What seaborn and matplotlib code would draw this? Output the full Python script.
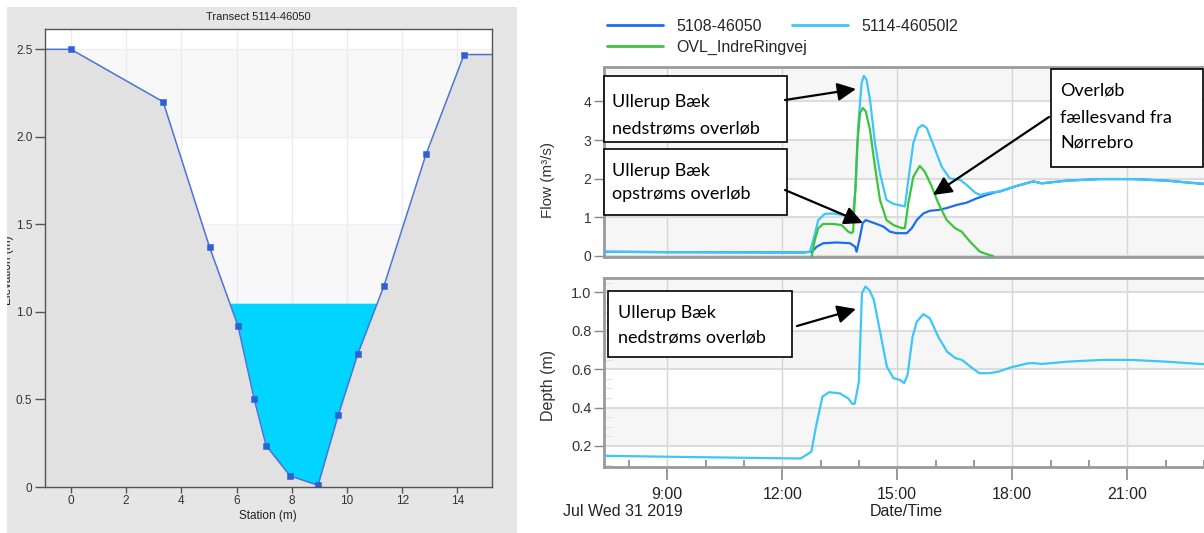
import numpy as np
import pandas as pd
import matplotlib
matplotlib.use("Agg")
import matplotlib.pyplot as plt
import seaborn as sns
from matplotlib.patches import Rectangle, FancyArrowPatch
from matplotlib.lines import Line2D
from matplotlib.ticker import FixedLocator, FuncFormatter

# ---------------- data ----------------
# Transect 5114-46050
station = [0.0, 3.34, 5.02, 6.05, 6.64, 7.07, 7.94, 8.95, 9.68, 10.39, 11.34, 12.86, 14.24]
elevation = [2.50, 2.20, 1.37, 0.92, 0.50, 0.236, 0.063, 0.01, 0.41, 0.76, 1.15, 1.90, 2.47]
water_level = 1.05

# Flow (m3/s) vs time (hours of Jul 31 2019)
t_5108 = [7.35, 9.0, 11.0, 12.5, 12.77, 12.9, 13.07, 13.42, 13.77, 13.9, 13.94, 14.01, 14.1,
          14.18, 14.29, 14.46, 14.64, 14.81, 14.98, 15.25, 15.38, 15.51, 15.68, 15.85, 16.07,
          16.29, 16.55, 16.81, 17.07, 17.33, 17.6, 17.68, 18.11, 18.55, 18.77, 19.42, 20.29,
          21.16, 22.03, 23.06]
q_5108 = [0.11, 0.10, 0.095, 0.09, 0.11, 0.24, 0.33, 0.35, 0.33, 0.24, 0.11, 0.41, 0.85,
          0.93, 0.89, 0.83, 0.76, 0.63, 0.59, 0.59, 0.72, 0.93, 1.10, 1.17, 1.19,
          1.24, 1.32, 1.38, 1.49, 1.58, 1.66, 1.67, 1.81, 1.93, 1.88, 1.95, 1.99,
          1.99, 1.95, 1.86]

t_l2 = [7.35, 9.0, 11.0, 12.5, 12.72, 12.81, 12.94, 13.11, 13.33, 13.59, 13.72, 13.83, 13.92,
        13.98, 14.07, 14.13, 14.2, 14.29, 14.42, 14.55, 14.72, 14.9, 15.12, 15.2, 15.29, 15.42,
        15.55, 15.66, 15.77, 15.94, 16.16, 16.37, 16.64, 16.81, 17.03, 17.16, 17.42, 17.68,
        18.11, 18.55, 18.77, 19.42, 20.29, 21.16, 22.03, 23.06]
q_l2 = [0.11, 0.10, 0.095, 0.09, 0.11, 0.41, 0.93, 1.09, 1.10, 1.06, 0.98, 0.93, 1.8,
        3.35, 4.47, 4.66, 4.56, 4.04, 2.92, 2.14, 1.45, 1.35, 1.30, 1.28, 1.97, 2.92,
        3.31, 3.39, 3.31, 2.88, 2.31, 2.01, 1.97, 1.84, 1.64, 1.58, 1.64, 1.67,
        1.81, 1.93, 1.88, 1.95, 1.99, 1.99, 1.95, 1.86]

t_ovl = [12.77, 12.85, 12.94, 13.07, 13.33, 13.55, 13.72, 13.81, 13.85, 13.9, 13.96, 14.03, 14.1,
         14.18, 14.29, 14.42, 14.55, 14.72, 14.9, 15.12, 15.2, 15.29, 15.42, 15.59, 15.72, 15.9,
         16.07, 16.29, 16.51, 16.68, 16.9, 17.16, 17.42, 17.5]
q_ovl = [0.0, 0.41, 0.72, 0.83, 0.83, 0.80, 0.63, 0.59, 0.63, 1.62, 2.92, 3.70, 3.83,
         3.74, 3.26, 2.31, 1.45, 0.93, 0.80, 0.72, 0.72, 1.37, 2.05, 2.33, 2.18, 1.80,
         1.37, 0.93, 0.72, 0.63, 0.37, 0.11, 0.02, 0.0]

# Depth (m) of 5114-46050l2
t_depth = [7.35, 9.0, 12.0, 12.48, 12.76, 12.88, 13.05, 13.22, 13.5, 13.72, 13.83, 13.89, 14.0,
           14.08, 14.17, 14.28, 14.39, 14.56, 14.73, 14.9, 15.07, 15.18, 15.27, 15.4, 15.51,
           15.68, 15.85, 16.07, 16.3, 16.52, 16.69, 16.91, 17.14, 17.42, 17.64, 17.98, 18.43,
           18.59, 18.77, 19.44, 20.34, 21.12, 22.02, 23.06]
d_depth = [0.149, 0.144, 0.136, 0.135, 0.17, 0.30, 0.457, 0.48, 0.474, 0.448, 0.419, 0.42, 0.535,
           0.995, 1.03, 1.01, 0.96, 0.787, 0.613, 0.553, 0.544, 0.527, 0.57, 0.769, 0.847,
           0.886, 0.865, 0.769, 0.691, 0.657, 0.648, 0.613, 0.579, 0.579, 0.587, 0.61, 0.631,
           0.631, 0.627, 0.639, 0.648, 0.648, 0.639, 0.625]

series_names = ["5108-46050", "5114-46050l2", "OVL_IndreRingvej"]
series_colors = ["#1a6ef0", "#3cc6fa", "#3dc43d"]
time_ticks = [9, 12, 15, 18, 21]
date_label = "Jul Wed 31 2019"

# ---------------- layout helpers ----------------
sns.set_style("white")
plt.rcParams["font.family"] = ["Liberation Sans", "DejaVu Sans"]
W, H = 1204, 533
fig = plt.figure(figsize=(W / 100, H / 100), dpi=100)


def fx(px):
    return px / W


def fy(py):
    return 1 - py / H


def rect(x0, y0, x1, y1):
    return [fx(x0), fy(y1), (x1 - x0) / W, (y1 - y0) / H]


# ---------------- left panel: transect ----------------
fig.patches.append(Rectangle((fx(7), 0), fx(517) - fx(7), fy(7), transform=fig.transFigure,
                             facecolor="#e6e6e6", edgecolor="none", zorder=-5))
ax_t = fig.add_axes(rect(45, 29, 492, 487))
xmin_t, xmax_t = -0.94, 15.25
ax_t.set_xlim(xmin_t, xmax_t)
ax_t.set_ylim(0, 2.616)
ax_t.set_facecolor("white")
for lo in [0.0, 1.0, 2.0]:
    ax_t.axhspan(lo, lo + 0.5, color="#f8f8f8", zorder=0, lw=0)
for gx in range(0, 16, 2):
    ax_t.axvline(gx, color="#ececec", lw=1, zorder=0.5)
for gy in np.arange(0, 2.6, 0.5):
    ax_t.axhline(gy, color="#f0f0f0", lw=1, zorder=0.5)

st_line = [xmin_t] + station + [xmax_t]
el_line = [elevation[0]] + elevation + [elevation[-1]]
st_arr = np.array(st_line)
el_arr = np.array(el_line)
ax_t.fill_between(st_arr, el_arr, water_level, where=el_arr < water_level, interpolate=True,
                  color="#00d4ff", lw=0, zorder=1)
ax_t.fill_between(st_arr, el_arr, 0, color="#e1e1e1", lw=0, zorder=1.5)
sns.lineplot(x=st_line, y=el_line, ax=ax_t, color="#4a74d6", lw=1.1, zorder=3, sort=False)
sns.scatterplot(x=station, y=elevation, ax=ax_t, marker="s", s=22, color="#2f5fd0",
                edgecolor="#2f5fd0", zorder=4)
ax_t.set_xticks(range(0, 15, 2))
ax_t.set_yticks([0, 0.5, 1.0, 1.5, 2.0, 2.5])
ax_t.set_yticklabels(["0", "0.5", "1.0", "1.5", "2.0", "2.5"])
ax_t.tick_params(axis="both", direction="out", length=7, width=1, color="#555555",
                 labelsize=8.5, labelcolor="#333333", pad=2, left=True, bottom=True)
ax_t.tick_params(axis="x", length=4, pad=2)
for s in ax_t.spines.values():
    s.set_color("#555555")
    s.set_linewidth(1)
    s.set_zorder(5)
ax_t.set_xlabel("")
ax_t.set_ylabel("")
fig.text(fx(258), fy(17), "Transect 5114-46050", ha="center", va="center", fontsize=8,
         color="#222222")
fig.text(fx(268), fy(516), "Station (m)", ha="center", va="center", fontsize=8.5,
         color="#222222")
fig.text(fx(8.5), fy(270), "Elevation (m)", ha="center", va="center", rotation=90,
         fontsize=8.5, color="#222222")
fig.patches.append(Rectangle((0, 0), fx(6.5), 1, transform=fig.transFigure,
                             facecolor="white", edgecolor="none", zorder=50))

# ---------------- right panels ----------------
px_per_h = 38.33
x_left = 7.35
x_right = x_left + (1206 - 604) / px_per_h


def style_ts(ax):
    ax.set_xlim(x_left, x_right)
    ax.set_facecolor("white")
    for s in ["left", "top", "bottom"]:
        ax.spines[s].set_color("#9a9a9a")
        ax.spines[s].set_linewidth(2)
    ax.spines["right"].set_visible(False)
    for t in time_ticks:
        ax.axvline(t, color="#d6d6d6", lw=1, zorder=0.5)
    ax.xaxis.set_major_locator(FixedLocator(time_ticks))
    ax.xaxis.set_minor_locator(FixedLocator([h for h in range(8, 24) if h not in time_ticks]))
    ax.set_xlabel("")
    ax.set_ylabel("")


# Flow axes
ax_q = fig.add_axes(rect(604, 67, 1206, 256.5))
style_ts(ax_q)
ax_q.set_ylim(-0.013, 4.89)
for lo in [0, 2, 4]:
    ax_q.axhspan(lo, lo + 1, color="#f6f6f6", lw=0, zorder=0)
for gy in range(0, 5):
    ax_q.axhline(gy, color="#dcdcdc", lw=1.5, zorder=0.6)
sns.lineplot(x=t_5108, y=q_5108, ax=ax_q, color=series_colors[0], lw=1.6, zorder=3)
sns.lineplot(x=t_l2, y=q_l2, ax=ax_q, color=series_colors[1], lw=1.6, zorder=3.2)
sns.lineplot(x=t_ovl, y=q_ovl, ax=ax_q, color=series_colors[2], lw=1.6, zorder=3.4)
ax_q.set_yticks([0, 1, 2, 3, 4])
ax_q.set_yticklabels(["0", "1", "2", "3", "4"])
ax_q.tick_params(axis="y", direction="out", length=7, width=1, color="#888888",
                 labelsize=10, labelcolor="#333333", pad=2, left=True)
ax_q.tick_params(axis="x", which="both", bottom=False, labelbottom=False)
ax_q.set_xlabel("")
ax_q.set_ylabel("")

# Depth axes
ax_d = fig.add_axes(rect(604, 278.3, 1206, 467.3))
style_ts(ax_d)
ax_d.set_ylim(0.089, 1.073)
for lo in [0.2, 0.6, 1.0]:
    ax_d.axhspan(lo, lo + 0.2, color="#f6f6f6", lw=0, zorder=0)
for gy in [0.2, 0.4, 0.6, 0.8, 1.0]:
    ax_d.axhline(gy, color="#dcdcdc", lw=1.5, zorder=0.6)
sns.lineplot(x=t_depth, y=d_depth, ax=ax_d, color=series_colors[1], lw=1.6, zorder=3)
ax_d.set_yticks([0.2, 0.4, 0.6, 0.8, 1.0])
ax_d.set_yticklabels(["0.2", "0.4", "0.6", "0.8", "1.0"])
ax_d.yaxis.set_minor_locator(FixedLocator(np.round(np.arange(0.1, 1.08, 0.05), 2)))
ax_d.tick_params(axis="y", which="major", direction="out", length=7, width=1, color="#888888",
                 labelsize=10.5, labelcolor="#333333", pad=2, left=True)
ax_d.tick_params(axis="y", which="minor", direction="in", length=6, width=0.8,
                 color="#e2e2e2", left=True)
ax_d.tick_params(axis="x", which="major", direction="out", length=9, width=1.2,
                 color="#888888", labelsize=11.5, labelcolor="#222222", pad=5, bottom=True)
ax_d.tick_params(axis="x", which="minor", direction="in", length=5, width=1.2,
                 color="#888888", bottom=True)
ax_d.xaxis.set_major_formatter(FuncFormatter(lambda v, p: f"{int(round(v))}:00"))
ax_d.set_xlabel("")
ax_d.set_ylabel("")

fig.text(fx(548), fy(180), "Flow (m³/s)", ha="center", va="center", rotation=90,
         fontsize=11, color="#333333")
fig.text(fx(548), fy(385), "Depth (m)", ha="center", va="center", rotation=90,
         fontsize=11.5, color="#333333")
fig.text(fx(623), fy(511), date_label, ha="center", va="center", fontsize=11.5,
         color="#222222")
fig.text(fx(906), fy(511), "Date/Time", ha="center", va="center", fontsize=11.5,
         color="#222222")

# Legend: first column (5108, OVL) and a second entry placed at x=792
handles = [Line2D([], [], color=c, lw=2) for c in series_colors]
leg_kw = dict(loc="upper left", frameon=False, fontsize=11.5, handlelength=3.5,
              handletextpad=0.85, labelspacing=0.35, borderpad=0, borderaxespad=0)
fig.legend([handles[0], handles[2]], [series_names[0], series_names[2]],
           bbox_to_anchor=(fx(607), fy(19)), **leg_kw)
fig.legend([handles[1]], [series_names[1]], bbox_to_anchor=(fx(792), fy(19)), **leg_kw)

# ---------------- annotations ----------------
ann_font = ["Lato", "DejaVu Sans"]


def box(x0, y0, x1, y1, lines):
    fig.patches.append(Rectangle((fx(x0), fy(y1)), (x1 - x0) / W, (y1 - y0) / H,
                                 transform=fig.transFigure, facecolor="white",
                                 edgecolor="black", lw=1.2, zorder=20))
    for (tx, ty, s) in lines:
        fig.text(fx(tx), fy(ty), s, ha="left", va="baseline", fontsize=13,
                 family=ann_font, color="black", zorder=21)


def arrow(x0, y0, x1, y1):
    fig.add_artist(FancyArrowPatch((fx(x0), fy(y0)), (fx(x1), fy(y1)),
                                   transform=fig.transFigure,
                                   arrowstyle="-|>,head_length=0.45,head_width=0.22",
                                   mutation_scale=25, lw=1.6, color="black",
                                   shrinkA=0, shrinkB=0, zorder=22))


box(604, 76, 787, 142, [(612, 107, "Ullerup Bæk"), (612, 134, "nedstrøms overløb")])
arrow(785, 100, 856, 89)
box(604, 149, 787, 215, [(612, 176, "Ullerup Bæk"), (612, 199, "opstrøms overløb")])
arrow(785, 190, 863, 223)
box(1051, 69, 1203, 167, [(1060, 96, "Overløb"), (1060, 122.7, "fællesvand fra"),
                          (1060, 147.3, "Nørrebro")])
arrow(1049, 117, 933, 195)
box(608, 291, 792, 357, [(618, 318, "Ullerup Bæk"), (618, 342.5, "nedstrøms overløb")])
arrow(797, 326, 856, 309)

fig.savefig("out.png", dpi=100)
